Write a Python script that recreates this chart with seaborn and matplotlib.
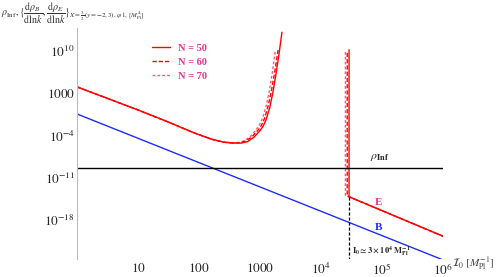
import numpy as np
import pandas as pd
import matplotlib
matplotlib.use("Agg")
import matplotlib.pyplot as plt
import seaborn as sns

# values, as log10 of I_0 and log10 of rho
lgI_50 = [0, 0.5, 1.0, 1.5, 1.9, 2.2, 2.4, 2.55, 2.7, 2.8, 2.9, 3.0, 3.05, 3.1, 3.16, 3.21, 3.26, 3.31, 3.36]
lgE_50 = [4.0, 2.1, 0.2, -1.8, -3.5, -4.6, -5.1, -5.25, -5.25, -5.0, -4.3, -3.2, -2.5, -1.4, 0.6, 3.0, 6.0, 9.3, 13.0]
lgI_60 = [0, 0.5, 1.0, 1.5, 1.9, 2.2, 2.4, 2.55, 2.68, 2.77, 2.87, 2.97, 3.02, 3.07, 3.13, 3.18, 3.23, 3.27, 3.30]
lgE_60 = [4.0, 2.1, 0.2, -1.8, -3.5, -4.6, -5.1, -5.25, -5.2, -4.9, -4.2, -3.1, -2.4, -1.3, 0.7, 3.0, 5.8, 8.3, 10.4]
lgI_70 = [0, 0.5, 1.0, 1.5, 1.9, 2.2, 2.4, 2.55, 2.66, 2.75, 2.85, 2.94, 2.99, 3.04, 3.1, 3.15, 3.2, 3.25]
lgE_70 = [4.0, 2.1, 0.2, -1.8, -3.5, -4.6, -5.1, -5.2, -5.15, -4.85, -4.1, -3.0, -2.3, -1.2, 0.8, 3.2, 6.2, 9.9]

# right-hand branch of E (vertical drop, then power law)
rI_50 = [4.46, 4.46, 6.0]
rE_50 = [10.1, -14.1, -20.6]
rI_60 = [4.43, 4.43, 4.46, 6.0]
rE_60 = [9.6, -14.0, -14.1, -20.6]
rI_70 = [4.40, 4.40, 4.46, 6.0]
rE_70 = [9.75, -13.9, -14.1, -20.6]

lgI_B = [0, 6]
lgB = [-0.46, -24.5]
lgI_inf = [0, 6]
lg_inf = [-9.4, -9.4]
I0_cut = 4.46
x_ticks = [1, 2, 3, 4, 5, 6]
x_ticklabels = [r'$10$', r'$100$', r'$1000$', r'$10^4$', r'$10^5$', r'$10^6$']
y_ticks = [10, 3, -4, -11, -18]
y_ticklabels = [r'$10^{10}$', r'$1000$', r'$10^{-4}$', r'$10^{-11}$', r'$10^{-18}$']

sns.set_style("white")
plt.rcParams['font.family'] = ['Liberation Serif', 'DejaVu Serif']
plt.rcParams['mathtext.fontset'] = 'stix'

fig = plt.figure(figsize=(4.98, 2.77), dpi=100)
ax = fig.add_axes([77/498, 18/277, (443-77)/498, (259-28)/277])

def df(lx, ly):
    return pd.DataFrame({'I': 10.0**np.array(lx), 'rho': 10.0**np.array(ly)})

red = '#ff0000'
pink = '#ff5a6e'
styles = [('N = 50', lgI_50, lgE_50, rI_50, rE_50, red, None),
          ('N = 60', lgI_60, lgE_60, rI_60, rE_60, red, (3, 1.5)),
          ('N = 70', lgI_70, lgE_70, rI_70, rE_70, pink, (2, 1.5))]

for name, lx, ly, rx, ry, col, dash in reversed(styles):
    kw = dict(color=col, lw=1.0, estimator=None, sort=False, ax=ax)
    if dash is not None:
        kw['linestyle'] = (0, dash)
    sns.lineplot(data=df(lx, ly), x='I', y='rho', label=name, **kw)
    sns.lineplot(data=df(rx, ry), x='I', y='rho', **kw)

sns.lineplot(data=df(lgI_B, lgB), x='I', y='rho', color='#1f2bff', lw=1.0, ax=ax)
sns.lineplot(data=df(lgI_inf, lg_inf), x='I', y='rho', color='black', lw=1.0, ax=ax)
sns.lineplot(data=df([I0_cut, I0_cut], [-14.1, -24.35]), x='I', y='rho', color='black',
             lw=0.9, linestyle=(0, (2.5, 1.5)), estimator=None, sort=False, ax=ax)

ax.set_xscale('log')
ax.set_yscale('log')
ax.set_xlim(1, 1e6)
ax.set_ylim(10**-24.35, 10**13.7)
ax.set_xticks([10.0**v for v in x_ticks])
ax.set_xticklabels(x_ticklabels)
ax.set_yticks([10.0**v for v in y_ticks])
ax.set_yticklabels(y_ticklabels)
ax.yaxis.set_minor_locator(matplotlib.ticker.NullLocator())
ax.tick_params(axis='both', which='major', direction='in', length=2.5, width=0.6,
               color='#555555', labelsize=9.5, pad=1.5)
ax.tick_params(axis='x', which='minor', direction='in', length=1.3, width=0.5, color='#777777')
ax.tick_params(axis='x', which='major', pad=2)
for s in ['top', 'right', 'bottom']:
    ax.spines[s].set_visible(False)
ax.spines['left'].set_color('#bbbbbb')
ax.spines['left'].set_linewidth(0.8)
ax.set_xlabel('')
ax.set_ylabel('')

handles, labels = ax.get_legend_handles_labels()
order = [labels.index(n) for n in ['N = 50', 'N = 60', 'N = 70']]
leg = ax.legend([handles[i] for i in order], [labels[i] for i in order],
                loc='upper left', bbox_to_anchor=(143/498, 1 - 34/277),
                bbox_transform=fig.transFigure, frameon=False, handlelength=1.7,
                handletextpad=0.8, labelspacing=0.45,
                prop={'weight': 'bold', 'size': 7.5})
for t in leg.get_texts():
    t.set_color('#e6338f')

ax.text(10**4.97, 10**-8.6, r'$\rho_{\mathbf{Inf}}$', fontsize=8.5, ha='center', va='bottom')
ax.text(10**4.95, 10**-15.1, 'E', color='#e6338f', fontsize=8, fontweight='bold', ha='center', va='center')
ax.text(10**4.95, 10**-19.2, 'B', color='#1f2bff', fontsize=8, fontweight='bold', ha='center', va='center')
ax.text(10**4.51, 10**-23.0, r'$\mathbf{I_0 \simeq 3\times10^4\ M_{Pl}^{-1}}$', fontsize=6,
        ha='left', va='center')

fig.text(452/498, 1 - 264/277, r'$\mathcal{I}_0\ [M_{\rm Pl}^{-1}]$', fontsize=8,
         color='#444444', ha='left', va='center')
fig.text(1/498, 1 - 13/277,
         r'$\rho_{\rm Inf},\{\dfrac{{\rm d}\rho_B}{{\rm dln}k},\dfrac{{\rm d}\rho_E}{{\rm dln}k}\}_{X=\frac{3}{2}(y=-2,3),\,\varphi 1,\,[M_{\rm Pl}^{4}]}$',
         fontsize=7.2, color='#333333', ha='left', va='center')

fig.savefig('out.png', dpi=100)
